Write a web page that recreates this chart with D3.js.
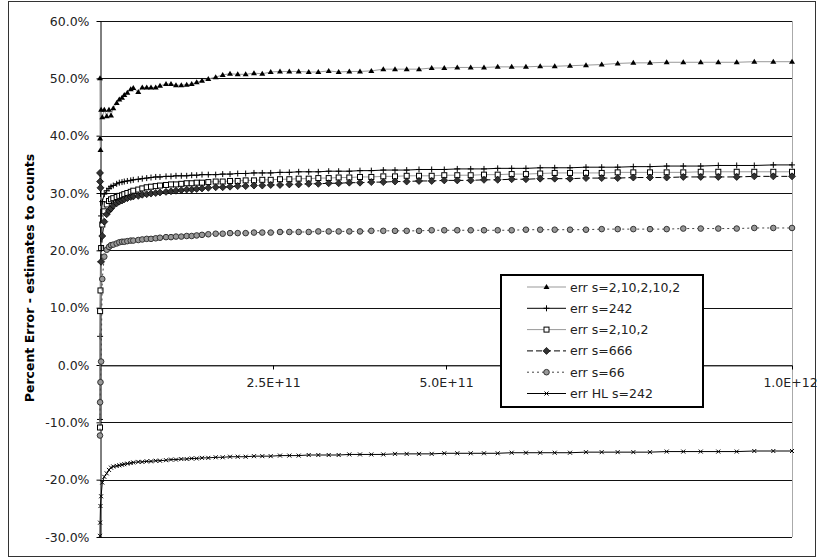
<!DOCTYPE html>
<meta charset="utf-8">
<style>
body { margin: 0; background: #fff; }
svg text { font-family: Verdana, "DejaVu Sans", sans-serif; }
.grid line { stroke: #111; stroke-width: 1px; shape-rendering: crispEdges; }
</style>
<script src="https://d3js.org/d3.v7.min.js"></script>
<body>
<div id="chart"></div>
<script>
// x positions, in units of 1E+10
var xVals = [0, 0.015, 0.07, 0.16, 0.33, 0.62, 0.97, 1.30, 1.59, 1.92,
  2.41, 2.79, 3.18, 3.51, 3.95, 4.44, 4.81, 5.53, 6.11, 6.75,
  7.37, 8.05, 8.67, 9.54, 10.26, 10.98, 11.75, 12.53, 13.25, 13.97,
  14.74, 15.65, 16.72, 17.73, 18.79, 19.90, 21.05, 22.25, 23.45, 24.67,
  26.01, 27.36, 28.71, 30.16, 31.55, 33.05, 34.49, 36.03, 37.57, 39.21,
  40.94, 42.63, 44.32, 46.10, 47.93, 49.75, 51.63, 53.57, 55.49, 57.47,
  59.49, 61.55, 63.61, 65.71, 67.92, 70.23, 72.50, 74.81, 77.07, 79.48,
  81.89, 84.29, 86.81, 89.35, 92.01, 94.55, 97.30, 100];

// percent error per series
var err_2_10_2_10_2 = [50.0, 39.5, 37.5, 44.5, 43.2, 44.5, 43.4, 44.5, 43.5, 44.8,
  45.7, 46.3, 46.6, 47.1, 47.5, 48.1, 48.3, 47.6, 48.4, 48.4,
  48.4, 48.4, 48.7, 49.0, 49.0, 48.8, 48.8, 48.9, 49.0, 49.3,
  49.6, 49.9, 50.2, 50.6, 50.8, 50.7, 50.7, 50.9, 50.8, 51.1,
  51.2, 51.2, 51.2, 51.1, 51.1, 51.3, 51.1, 51.2, 51.2, 51.3,
  51.6, 51.6, 51.6, 51.6, 51.8, 51.8, 51.9, 51.9, 51.9, 52.0,
  52.0, 52.0, 52.1, 52.1, 52.2, 52.3, 52.4, 52.6, 52.7, 52.7,
  52.8, 52.8, 52.8, 52.8, 52.8, 52.9, 52.9, 52.9];

var err_242 = [-9.5, 5, 18, 26, 28.5, 29.8, 30.4, 30.8, 31.1, 31.3,
  31.6, 31.8, 31.9, 32.0, 32.1, 32.2, 32.3, 32.4, 32.5, 32.6,
  32.7, 32.8, 32.8, 32.9, 32.9, 33.0, 33.0, 33.0, 33.1, 33.1,
  33.2, 33.2, 33.2, 33.3, 33.3, 33.4, 33.4, 33.5, 33.5, 33.5,
  33.6, 33.6, 33.7, 33.7, 33.7, 33.8, 33.8, 33.8, 33.9, 33.9,
  34.0, 34.0, 34.0, 34.1, 34.1, 34.1, 34.2, 34.2, 34.2, 34.3,
  34.3, 34.3, 34.4, 34.4, 34.4, 34.5, 34.5, 34.5, 34.6, 34.6,
  34.7, 34.7, 34.7, 34.8, 34.8, 34.8, 34.9, 34.9];

var err_2_10_2 = [-10.9, 9.4, 13, 20.4, 24.5, 26.8, 28.0, 28.6, 28.9, 29.1,
  29.3, 29.5, 29.6, 29.8, 30.0, 30.2, 30.4, 30.6, 30.8, 31.0,
  31.1, 31.2, 31.3, 31.4, 31.5, 31.5, 31.6, 31.7, 31.7, 31.8,
  31.8, 31.9, 32.0, 32.0, 32.1, 32.1, 32.2, 32.2, 32.3, 32.3,
  32.4, 32.4, 32.5, 32.5, 32.6, 32.6, 32.7, 32.7, 32.8, 32.8,
  32.9, 32.9, 33.0, 33.0, 33.0, 33.1, 33.1, 33.1, 33.2, 33.2,
  33.3, 33.3, 33.4, 33.5, 33.5, 33.5, 33.5, 33.6, 33.6, 33.6,
  33.6, 33.6, 33.7, 33.7, 33.7, 33.7, 33.7, 33.7];

var err_666 = [33.5, 32.0, 30.9, 18.0, 22.5, 25.0, 26.3, 26.9, 27.3, 27.8,
  28.2, 28.5, 28.7, 28.9, 29.1, 29.3, 29.4, 29.5, 29.7, 29.8,
  29.9, 30.0, 30.1, 30.2, 30.3, 30.4, 30.5, 30.6, 30.6, 30.7,
  30.8, 30.9, 31.0, 31.0, 31.1, 31.2, 31.2, 31.3, 31.3, 31.4,
  31.4, 31.5, 31.5, 31.6, 31.6, 31.7, 31.7, 31.8, 31.8, 31.9,
  31.9, 32.0, 32.0, 32.1, 32.1, 32.2, 32.2, 32.2, 32.3, 32.3,
  32.4, 32.4, 32.5, 32.5, 32.5, 32.6, 32.6, 32.6, 32.7, 32.7,
  32.7, 32.8, 32.8, 32.8, 32.8, 32.9, 32.9, 32.9];

var err_66 = [-12.3, -6.5, -3.0, 0.6, 15.0, 18.9, 20.1, 20.6, 20.9, 21.0,
  21.2, 21.4, 21.5, 21.5, 21.6, 21.7, 21.7, 21.8, 21.9, 22.0,
  22.0, 22.1, 22.2, 22.3, 22.3, 22.4, 22.4, 22.5, 22.5, 22.6,
  22.7, 22.8, 22.9, 22.9, 23.0, 23.0, 23.0, 23.1, 23.1, 23.1,
  23.2, 23.2, 23.2, 23.2, 23.3, 23.3, 23.3, 23.3, 23.3, 23.4,
  23.4, 23.4, 23.4, 23.4, 23.5, 23.5, 23.5, 23.5, 23.5, 23.5,
  23.5, 23.6, 23.6, 23.6, 23.6, 23.6, 23.7, 23.7, 23.7, 23.7,
  23.7, 23.8, 23.8, 23.8, 23.8, 23.9, 23.9, 23.9];

var err_HL_242 = [-29.8, -27.5, -24.6, -22.9, -20.5, -19.5, -18.9, -18.3, -17.9, -17.7,
  -17.6, -17.5, -17.4, -17.3, -17.2, -17.1, -17.0, -16.9, -16.9, -16.8,
  -16.8, -16.7, -16.7, -16.6, -16.5, -16.5, -16.4, -16.4, -16.3, -16.3,
  -16.2, -16.2, -16.1, -16.1, -16.0, -16.0, -16.0, -15.9, -15.9, -15.9,
  -15.8, -15.8, -15.8, -15.7, -15.7, -15.7, -15.7, -15.6, -15.6, -15.6,
  -15.6, -15.5, -15.5, -15.5, -15.5, -15.4, -15.4, -15.4, -15.4, -15.4,
  -15.3, -15.3, -15.3, -15.3, -15.3, -15.2, -15.2, -15.2, -15.2, -15.2,
  -15.1, -15.1, -15.1, -15.1, -15.1, -15.0, -15.0, -15.0];

var seriesNames = ["err s=2,10,2,10,2", "err s=242", "err s=2,10,2", "err s=666", "err s=66", "err HL s=242"];
var seriesVals = [err_2_10_2_10_2, err_242, err_2_10_2, err_666, err_66, err_HL_242];
var yTicks = [-30, -20, -10, 0, 10, 20, 30, 40, 50, 60];
var xTicks = [2.5e11, 5e11, 7.5e11, 1e12];

// look of each series
var styles = [
  {stroke: "#999", dash: null, marker: "triangle"},
  {stroke: "#000", dash: null, marker: "plus"},
  {stroke: "#999", dash: null, marker: "square"},
  {stroke: "#000", dash: "6,3", marker: "diamond"},
  {stroke: "#444", dash: "2,3", marker: "circle"},
  {stroke: "#000", dash: null, marker: "cross"}
];

var W = 817, H = 558;
var svg = d3.select("#chart").append("svg")
    .attr("width", W)
    .attr("height", H);

svg.append("rect")
    .attr("x", 8.5).attr("y", 1.5)
    .attr("width", 807).attr("height", 555)
    .attr("fill", "#fff")
    .attr("stroke", "#333");

var x = d3.scaleLinear().domain([0, 1e12]).range([100, 792]);
var y = d3.scaleLinear().domain([-30, 60]).range([537, 21]);

// gridlines
svg.append("g")
    .attr("class", "grid")
  .selectAll("line")
  .data(yTicks)
  .enter().append("line")
    .attr("x1", x(0)).attr("x2", x(1e12))
    .attr("y1", function(d) { return Math.round(y(d)) + 0.5; })
    .attr("y2", function(d) { return Math.round(y(d)) + 0.5; });

// right edge of the plot area
svg.append("line")
    .attr("x1", x(1e12) + 0.5).attr("x2", x(1e12) + 0.5)
    .attr("y1", y(60)).attr("y2", y(-30))
    .attr("stroke", "#aaa");

// x axis sits at 0%; the 7.5E+11 label is hidden under the legend
var xAxis = svg.append("g")
    .attr("transform", "translate(0," + (Math.round(y(0)) + 0.5) + ")")
    .call(d3.axisBottom(x)
      .tickValues(xTicks)
      .tickSize(4)
      .tickPadding(9)
      .tickSizeOuter(0)
      .tickFormat(function(d) { return d == 7.5e11 ? "" : d.toExponential(1).toUpperCase(); }));
xAxis.select(".domain").attr("stroke", "#444");
xAxis.selectAll("text").attr("font-size", "12.5px").attr("fill", "#222");
xAxis.selectAll("text").filter(function(d) { return d == 1e12; }).attr("dx", "-2");

var yAxis = svg.append("g")
    .attr("transform", "translate(" + (x(0) + 0.5) + ",0)")
    .call(d3.axisLeft(y)
      .tickValues(yTicks)
      .tickSize(4)
      .tickPadding(7)
      .tickSizeOuter(0)
      .tickFormat(function(d) { return d.toFixed(1) + "%"; }));
yAxis.selectAll("text").attr("font-size", "12.5px").attr("fill", "#222");

svg.append("text")
    .attr("transform", "translate(34," + 278 + ") rotate(-90)")
    .attr("text-anchor", "middle")
    .attr("font-size", "12.5px")
    .attr("font-weight", "bold")
    .text("Percent Error - estimates to counts");

function drawMarker(g, type, cx, cy) {
  if (type == "triangle") {
    g.append("path").attr("d", "M" + cx + "," + (cy - 3) + "L" + (cx + 3) + "," + (cy + 2) + "L" + (cx - 3) + "," + (cy + 2) + "Z")
      .attr("fill", "#000");
  } else if (type == "plus") {
    g.append("path").attr("d", "M" + (cx - 3) + "," + cy + "H" + (cx + 3) + "M" + cx + "," + (cy - 3) + "V" + (cy + 3))
      .attr("stroke", "#000").attr("stroke-width", 1);
  } else if (type == "square") {
    g.append("rect").attr("x", cx - 2.5).attr("y", cy - 2.5).attr("width", 5).attr("height", 5)
      .attr("fill", "#fff").attr("stroke", "#000").attr("stroke-width", 1);
  } else if (type == "diamond") {
    g.append("path").attr("d", "M" + cx + "," + (cy - 3.5) + "L" + (cx + 3.5) + "," + cy + "L" + cx + "," + (cy + 3.5) + "L" + (cx - 3.5) + "," + cy + "Z")
      .attr("fill", "#333").attr("stroke", "#000").attr("stroke-width", 0.7);
  } else if (type == "circle") {
    g.append("circle").attr("cx", cx).attr("cy", cy).attr("r", 2.8)
      .attr("fill", "#999").attr("stroke", "#333").attr("stroke-width", 1);
  } else if (type == "cross") {
    g.append("path").attr("d", "M" + (cx - 2) + "," + (cy - 2) + "L" + (cx + 2) + "," + (cy + 2) + "M" + (cx + 2) + "," + (cy - 2) + "L" + (cx - 2) + "," + (cy + 2))
      .attr("stroke", "#000").attr("stroke-width", 1);
  }
}

var line = d3.line()
    .x(function(d) { return x(d[0] * 1e10); })
    .y(function(d) { return y(d[1]); });

seriesVals.forEach(function(vals, i) {
  var pts = vals.map(function(v, j) { return [xVals[j], v]; });
  var g = svg.append("g");
  g.append("path")
      .datum(pts)
      .attr("d", line)
      .attr("fill", "none")
      .attr("stroke", styles[i].stroke)
      .attr("stroke-width", 1)
      .attr("stroke-dasharray", styles[i].dash);
  pts.forEach(function(p) {
    drawMarker(g, styles[i].marker, x(p[0] * 1e10), y(p[1]));
  });
});

// legend
var lg = svg.append("g");
lg.append("rect")
    .attr("x", 501).attr("y", 275)
    .attr("width", 202).attr("height", 132)
    .attr("fill", "#fff")
    .attr("stroke", "#000")
    .attr("stroke-width", 2);

seriesNames.forEach(function(name, i) {
  var ly = 287 + i * 21.3;
  lg.append("line")
      .attr("x1", 527).attr("x2", 566)
      .attr("y1", ly).attr("y2", ly)
      .attr("stroke", styles[i].stroke)
      .attr("stroke-dasharray", styles[i].dash);
  drawMarker(lg, styles[i].marker, 546.5, ly);
  lg.append("text")
      .attr("x", 570).attr("y", ly)
      .attr("dy", "0.36em")
      .attr("font-size", "12.5px")
      .attr("fill", "#222")
      .text(name);
});
</script>
</body>
